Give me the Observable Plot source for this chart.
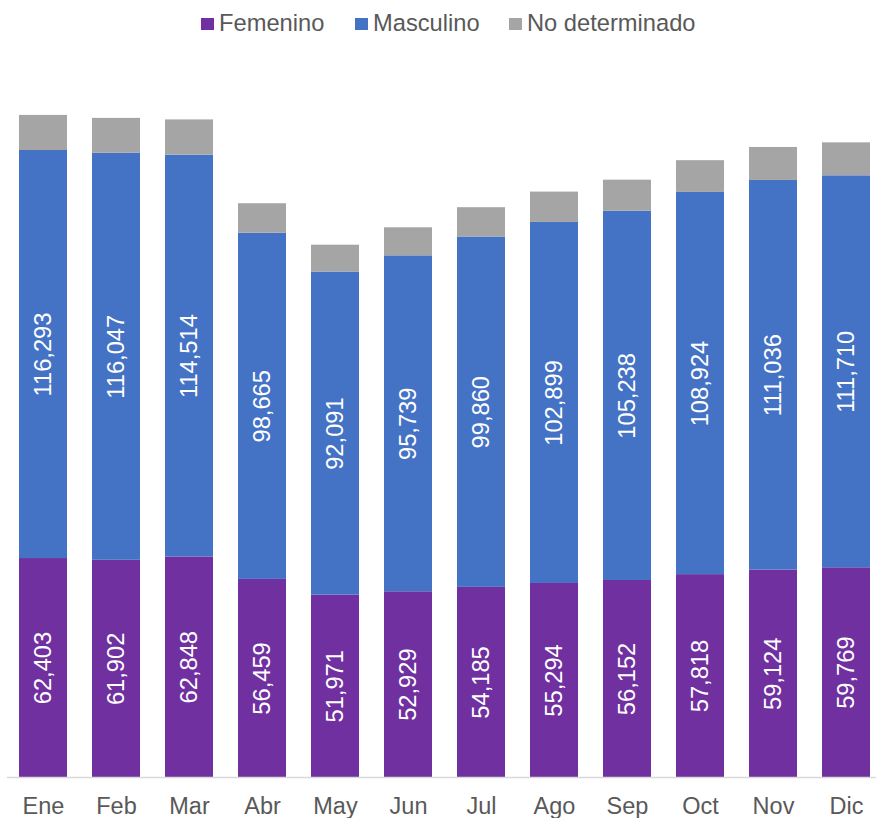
<!DOCTYPE html>
<html>
<head>
<meta charset="utf-8">
<script src="https://cdn.jsdelivr.net/npm/d3@7"></script>
<script src="https://cdn.jsdelivr.net/npm/@observablehq/plot@0.6"></script>
<style>
  html, body { margin: 0; padding: 0; background: #fff; }
  body { width: 876px; height: 818px; overflow: hidden; font-family: "Liberation Sans", Arial, sans-serif; }
  #legend { position: relative; height: 50px; width: 876px; }
  .item { position: absolute; top: 0; height: 50px; }
  .sw { position: absolute; top: 18px; width: 13px; height: 12px; }
  .lbl { position: absolute; top: 10px; font-size: 23.7px; line-height: 26px; color: #595959; white-space: nowrap; }
</style>
</head>
<body>
<div id="legend"></div>
<div id="chart"></div>
<script>
const months = ["Ene","Feb","Mar","Abr","May","Jun","Jul","Ago","Sep","Oct","Nov","Dic"];
const femenino = [62403,61902,62848,56459,51971,52929,54185,55294,56152,57818,59124,59769];
const masculino = [116293,116047,114514,98665,92091,95739,99860,102899,105238,108924,111036,111710];
const noDeterminado = [10000,9900,10050,8400,7650,8000,8350,8650,8850,9050,9400,9400];
const seriesNames = ["Femenino","Masculino","No determinado"];
const seriesColors = ["#7030A0","#4472C4","#A5A5A5"];

const rows = [];
months.forEach((m, i) => {
  rows.push({mes: m, serie: "Femenino", valor: femenino[i], label: true});
  rows.push({mes: m, serie: "Masculino", valor: masculino[i], label: true});
  rows.push({mes: m, serie: "No determinado", valor: noDeterminado[i], label: false});
});

// Legend
const legend = document.getElementById("legend");
const legendX = [201, 355, 509];
seriesNames.forEach((s, i) => {
  const it = document.createElement("div");
  it.className = "item";
  it.style.left = legendX[i] + "px";
  const sw = document.createElement("div");
  sw.className = "sw";
  sw.style.left = "0px";
  sw.style.background = seriesColors[i];
  const lb = document.createElement("div");
  lb.className = "lbl";
  lb.style.left = "18px";
  lb.textContent = s;
  it.appendChild(sw);
  it.appendChild(lb);
  legend.appendChild(it);
});

const fmt = d3.format(",");
const stackOpts = {x: "mes", y: "valor", z: "serie", order: seriesNames};

const chart = Plot.plot({
  width: 876,
  height: 768,
  marginLeft: 7,
  marginRight: 0,
  marginTop: 27,
  marginBottom: 41,
  style: {fontFamily: "'Liberation Sans', Arial, sans-serif", background: "#fff"},
  x: {domain: months, range: [19, 871], paddingInner: 0.342, paddingOuter: 0, label: null},
  y: {domain: [0, 199500], axis: null},
  color: {domain: seriesNames, range: seriesColors},
  marks: [
    Plot.barY(rows, Plot.stackY({...stackOpts, fill: "serie"})),
    Plot.text(rows.filter(d => d.label), Plot.stackY({
      ...stackOpts,
      text: d => fmt(d.valor),
      fill: "white",
      rotate: -90,
      fontSize: 23.7
    })),
    Plot.ruleY([0], {stroke: "#d9d9d9", strokeWidth: 1.5}),
    Plot.axisX({tickSize: 0, tickPadding: 20, fontSize: 23.5, color: "#595959", label: null})
  ]
});
document.getElementById("chart").appendChild(chart);
</script>
</body>
</html>
